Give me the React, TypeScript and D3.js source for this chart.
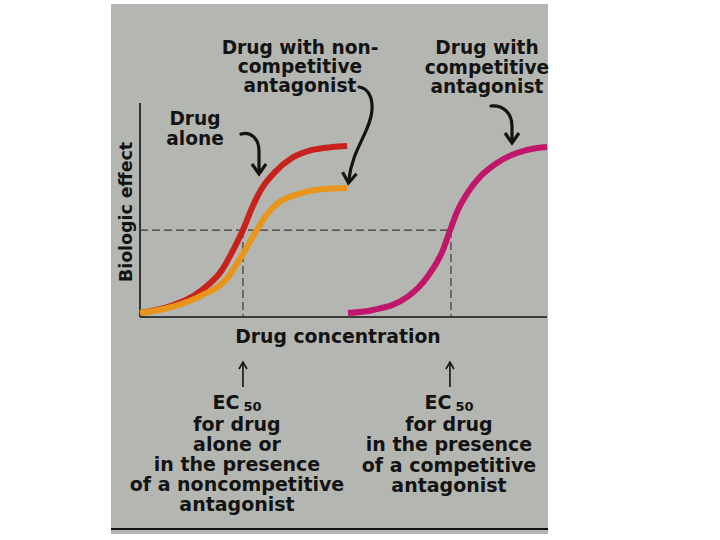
import React from "react";
import * as d3 from "d3";

// ---- Data ----
// x: log drug concentration (arbitrary units 0..10), y: biologic effect (% of scale)
const drugAlone: [number, number][] = [
  [0, 2.2], [0.69, 5.6], [1.52, 15], [2.01, 26], [2.33, 39], [2.53, 48.3],
  [2.75, 60.6], [3.0, 71.7], [3.32, 80.6], [3.73, 88.3], [4.23, 92.8], [4.72, 94.4], [5.09, 95],
];
const drugNonCompetitive: [number, number][] = [
  [0, 2.2], [0.69, 5], [1.52, 12], [2.16, 22], [2.41, 30.6], [2.87, 48.3],
  [3.07, 55.6], [3.39, 63.3], [3.81, 67.8], [4.3, 70.6], [5.09, 71.7],
];
const drugCompetitive: [number, number][] = [
  [5.11, 2.2], [5.72, 3.9], [6.56, 11], [7.05, 22], [7.44, 37], [7.62, 48.3],
  [7.81, 59.4], [8.06, 69.4], [8.35, 77.8], [8.77, 85.6], [9.26, 91.1], [9.75, 93.9], [10, 94.4],
];
const halfEffect = 48.3;
const ec50Alone = 2.53;
const ec50Competitive = 7.64;

const topLeftLabel = ["Drug with non-", "competitive", "antagonist"];
const topRightLabel = ["Drug with", "competitive", "antagonist"];
const aloneLabel = ["Drug", "alone"];
const bottomLeftLabel = ["for drug", "alone or", "in the presence", "of a noncompetitive", "antagonist"];
const bottomRightLabel = ["for drug", "in the presence", "of a competitive", "antagonist"];

const FONT = "'DejaVu Sans', 'Liberation Sans', Arial, sans-serif";
const INK = "#131313";

export default function App() {
  const x = d3.scaleLinear().domain([0, 10]).range([140, 547]);
  const y = d3.scaleLinear().domain([0, 100]).range([317, 137]);
  const line = d3
    .line<[number, number]>()
    .x((d) => x(d[0]))
    .y((d) => y(d[1]))
    .curve(d3.curveMonotoneX);

  const x0 = x(0);
  const x1 = x(10);
  const y0 = y(0);
  const yHalf = y(halfEffect);

  const textProps = {
    fontFamily: FONT,
    fontWeight: 700 as const,
    fill: INK,
    textAnchor: "middle" as const,
  };

  const head = (tx: number, ty: number, angle: number) => (
    <g transform={`translate(${tx},${ty}) rotate(${angle - 90})`}>
      <polyline
        points="-7,-10 0,0 7,-10"
        fill="none"
        stroke={INK}
        strokeWidth={3.2}
        strokeLinejoin="miter"
      />
    </g>
  );

  const xa = x(ec50Alone);
  const xc = x(ec50Competitive) - 1;

  return (
    <svg
      width={720}
      height={540}
      style={{ position: "absolute", left: 0, top: 0, background: "#ffffff" }}
    >
      <rect x={111} y={4} width={437} height={530} fill="#b4b7b1" />
      <line x1={111} x2={548} y1={529} y2={529} stroke={INK} strokeWidth={2} />

      {/* axes */}
      <line x1={x0} x2={x0} y1={103} y2={y0} stroke={INK} strokeWidth={1.6} />
      <line x1={x0} x2={x1} y1={y0} y2={y0} stroke={INK} strokeWidth={1.6} />

      {/* EC50 guides */}
      <g stroke="#3a3a3a" strokeWidth={1.2} strokeDasharray="8,4" fill="none">
        <line x1={x0} x2={x(ec50Competitive)} y1={yHalf} y2={yHalf} />
        <line x1={x(ec50Alone)} x2={x(ec50Alone)} y1={yHalf} y2={y0} />
        <line x1={x(ec50Competitive)} x2={x(ec50Competitive)} y1={yHalf} y2={y0} />
      </g>

      {/* curves */}
      <path d={line(drugAlone) || ""} fill="none" stroke="#c8221d" strokeWidth={6} />
      <path d={line(drugNonCompetitive) || ""} fill="none" stroke="#e8951c" strokeWidth={6} />
      <path d={line(drugCompetitive) || ""} fill="none" stroke="#c0176c" strokeWidth={6} />

      {/* curved annotation arrows */}
      <g fill="none" stroke={INK} strokeWidth={3.2} strokeLinecap="round">
        <path d="M241,134 C251,131 259,139 259,151 L259,170" />
        <path d="M359,87 C367,88 373,96 372,110 C371,130 352,150 349,179" />
        <path d="M491,106 C503,105 512,113 512,126 L512,140" />
      </g>
      {head(259, 174, 90)}
      {head(348.5, 183, 96)}
      {head(512, 143, 90)}

      {/* top labels */}
      <g {...textProps} fontSize={18.6}>
        {topLeftLabel.map((t, i) => (
          <text key={t} x={300} y={54 + i * 19}>{t}</text>
        ))}
        {topRightLabel.map((t, i) => (
          <text key={t} x={487} y={54 + i * 19.5}>{t}</text>
        ))}
        {aloneLabel.map((t, i) => (
          <text key={t} x={195} y={125 + i * 20}>{t}</text>
        ))}
      </g>

      {/* axis titles */}
      <text {...textProps} fontSize={17.4} transform={`translate(132,212) rotate(-90)`}>
        Biologic effect
      </text>
      <text {...textProps} fontSize={18.8} x={338} y={343}>
        Drug concentration
      </text>

      {/* small up arrows */}
      <g stroke={INK} strokeWidth={1.6} fill="none">
        <line x1={xa} x2={xa} y1={387} y2={363} />
        <polyline points={`${xa - 4},${369} ${xa},${362} ${xa + 4},${369}`} />
        <line x1={xc} x2={xc} y1={387} y2={363} />
        <polyline points={`${xc - 4},${369} ${xc},${362} ${xc + 4},${369}`} />
      </g>

      {/* bottom labels */}
      <g {...textProps} fontSize={19}>
        <text x={237} y={409}>
          EC<tspan fontSize={13} dx={4} dy={2}>50</tspan>
        </text>
        {bottomLeftLabel.map((t, i) => (
          <text key={t} x={237} y={431 + i * 20.1}>{t}</text>
        ))}
        <text x={449} y={409}>
          EC<tspan fontSize={13} dx={4} dy={2}>50</tspan>
        </text>
        {bottomRightLabel.map((t, i) => (
          <text key={t} x={449} y={431 + i * 20.3}>{t}</text>
        ))}
      </g>
    </svg>
  );
}
